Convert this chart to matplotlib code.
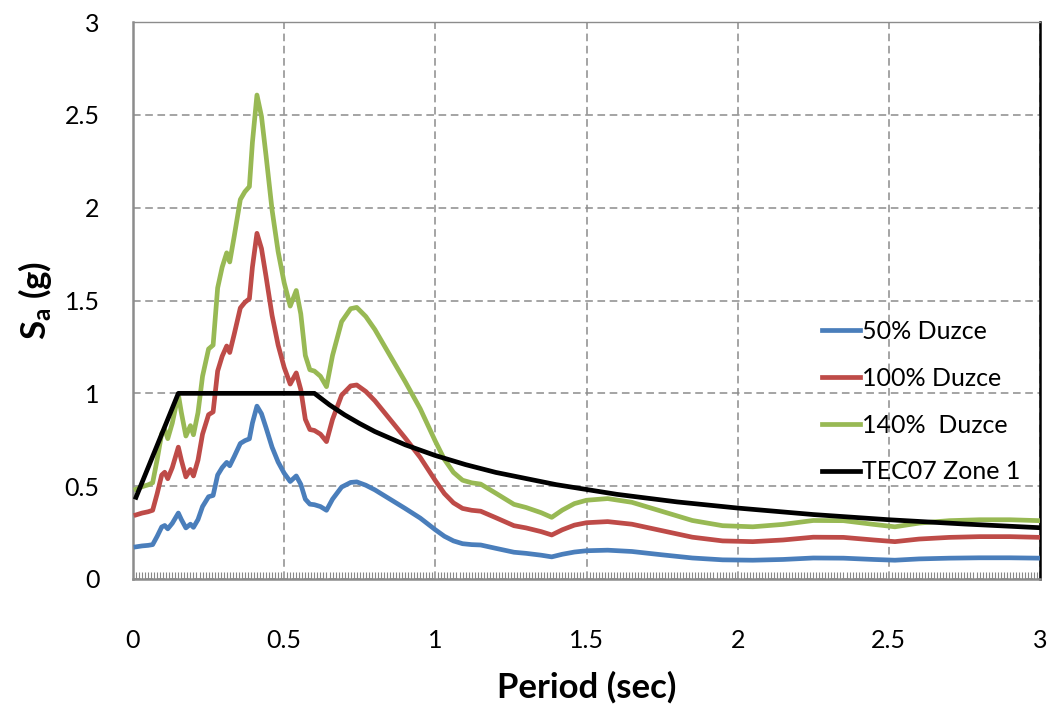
import matplotlib
matplotlib.use('Agg')
import matplotlib.pyplot as plt
from matplotlib.ticker import MultipleLocator

plt.rcParams['font.family'] = ['Lato', 'DejaVu Sans']
plt.rcParams['mathtext.fontset'] = 'custom'
plt.rcParams['mathtext.rm'] = 'Lato'
plt.rcParams['mathtext.bf'] = 'Lato:bold'

# ---- data ----
period = [0.01, 0.03, 0.05, 0.065, 0.08, 0.095, 0.105, 0.115, 0.13, 0.15,
          0.16, 0.175, 0.19, 0.2, 0.215, 0.23, 0.25, 0.265, 0.28, 0.295,
          0.31, 0.32, 0.335, 0.355, 0.37, 0.385, 0.395, 0.41, 0.425, 0.44,
          0.46, 0.48, 0.5, 0.52, 0.54, 0.555, 0.57, 0.585, 0.6, 0.62,
          0.64, 0.66, 0.69, 0.72, 0.74, 0.77, 0.8, 0.85, 0.9, 0.95,
          1.0, 1.03, 1.06, 1.09, 1.12, 1.15, 1.2, 1.26, 1.3, 1.35,
          1.385, 1.42, 1.46, 1.5, 1.57, 1.65, 1.75, 1.85, 1.95, 2.05,
          2.15, 2.25, 2.35, 2.45, 2.52, 2.6, 2.7, 2.8, 2.9, 3.0]

sa_50 = [0.173, 0.178, 0.181, 0.185, 0.23, 0.28, 0.288, 0.27, 0.30, 0.355,
         0.32, 0.275, 0.295, 0.278, 0.32, 0.39, 0.443, 0.45, 0.56, 0.60,
         0.628, 0.61, 0.66, 0.73, 0.745, 0.755, 0.84, 0.931, 0.89, 0.815,
         0.71, 0.63, 0.57, 0.525, 0.555, 0.51, 0.43, 0.403, 0.40, 0.39,
         0.37, 0.43, 0.495, 0.52, 0.523, 0.505, 0.48, 0.43, 0.38, 0.328,
         0.265, 0.23, 0.205, 0.19, 0.185, 0.183, 0.165, 0.144, 0.138, 0.128,
         0.119, 0.133, 0.145, 0.152, 0.155, 0.148, 0.13, 0.113, 0.103, 0.101,
         0.105, 0.113, 0.112, 0.105, 0.101, 0.108, 0.112, 0.114, 0.114, 0.112]

sa_100 = [0.345, 0.355, 0.362, 0.37, 0.46, 0.56, 0.575, 0.54, 0.60, 0.71,
          0.64, 0.55, 0.59, 0.555, 0.64, 0.78, 0.885, 0.90, 1.12, 1.20,
          1.255, 1.22, 1.32, 1.46, 1.49, 1.51, 1.68, 1.862, 1.78, 1.63,
          1.42, 1.26, 1.14, 1.05, 1.11, 1.02, 0.86, 0.805, 0.80, 0.78,
          0.74, 0.86, 0.99, 1.04, 1.045, 1.01, 0.96, 0.86, 0.76, 0.655,
          0.53, 0.46, 0.41, 0.38, 0.37, 0.365, 0.33, 0.287, 0.275, 0.255,
          0.237, 0.265, 0.29, 0.303, 0.309, 0.295, 0.26, 0.225, 0.205, 0.201,
          0.21, 0.225, 0.224, 0.21, 0.201, 0.215, 0.224, 0.228, 0.228, 0.224]

sa_140 = [0.483, 0.497, 0.507, 0.518, 0.644, 0.784, 0.805, 0.756, 0.84, 0.994,
          0.896, 0.77, 0.826, 0.777, 0.896, 1.092, 1.239, 1.26, 1.568, 1.68,
          1.757, 1.708, 1.848, 2.044, 2.086, 2.114, 2.352, 2.607, 2.492, 2.282,
          1.988, 1.764, 1.596, 1.47, 1.554, 1.428, 1.204, 1.127, 1.12, 1.092,
          1.036, 1.204, 1.386, 1.456, 1.463, 1.414, 1.344, 1.204, 1.064, 0.917,
          0.742, 0.644, 0.574, 0.532, 0.518, 0.511, 0.462, 0.402, 0.385, 0.357,
          0.332, 0.371, 0.406, 0.424, 0.433, 0.413, 0.364, 0.315, 0.287, 0.281,
          0.294, 0.315, 0.314, 0.294, 0.281, 0.301, 0.314, 0.319, 0.319, 0.314]

tec_period = [0.01, 0.15, 0.6, 0.65, 0.7, 0.75, 0.8, 0.9, 1.0, 1.1, 1.2,
              1.4, 1.6, 1.8, 2.0, 2.25, 2.5, 2.75, 3.0]
tec_sa = [0.44, 1.0, 1.0, 0.938, 0.884, 0.837, 0.794, 0.723, 0.665, 0.616, 0.574,
          0.508, 0.456, 0.415, 0.382, 0.347, 0.319, 0.296, 0.276]

# ---- figure ----
fig = plt.figure(figsize=(10.58, 7.13), dpi=100)
ax = fig.add_axes([0.1257, 0.188, 0.8573, 0.781])

lw = 3.4
ax.plot(period, sa_50, color='#4A7EBB', lw=lw, label='50% Duzce', zorder=3,
        solid_joinstyle='round')
ax.plot(period, sa_100, color='#BE4B48', lw=lw, label='100% Duzce', zorder=3,
        solid_joinstyle='round')
ax.plot(period, sa_140, color='#98B954', lw=lw, label='140%  Duzce', zorder=3,
        solid_joinstyle='round')
ax.plot(tec_period, tec_sa, color='black', lw=lw, label='TEC07 Zone 1', zorder=4)

ax.set_xlim(0, 3)
ax.set_ylim(0, 3)
ax.xaxis.set_major_locator(MultipleLocator(0.5))
ax.yaxis.set_major_locator(MultipleLocator(0.5))
ax.xaxis.set_minor_locator(MultipleLocator(0.01))
fmt = plt.FuncFormatter(lambda v, p: f'{v:g}')
ax.xaxis.set_major_formatter(fmt)
ax.yaxis.set_major_formatter(fmt)

ax.grid(True, which='major', color='#8c8c8c', linestyle=(0, (5, 3)), lw=1.1)
ax.set_axisbelow(True)

ax.tick_params(axis='both', which='major', length=0, labelsize=18)
ax.tick_params(axis='x', which='major', pad=36)
ax.tick_params(axis='y', which='major', pad=24)
ax.tick_params(axis='x', which='minor', direction='in', length=5, width=0.8,
               color='#888888')

for side in ['left', 'bottom', 'top']:
    ax.spines[side].set_color('#8c8c8c')
ax.spines['left'].set_linewidth(1.8)
ax.spines['bottom'].set_linewidth(1.8)
ax.spines['top'].set_linewidth(1.0)
ax.spines['right'].set_color('black')
ax.spines['right'].set_linewidth(1.8)

ax.set_xlabel('Period (sec)', fontsize=25, fontweight='bold', labelpad=14)
ax.set_ylabel(r'$\mathbf{S_a}$ (g)', fontsize=25, fontweight='bold', labelpad=8)

ax.legend(loc='upper left', bbox_to_anchor=(0.735, 0.505), frameon=False,
          fontsize=18, handlelength=1.5, handletextpad=0.1, labelspacing=0.95)

plt.savefig('out.png', dpi=100)
